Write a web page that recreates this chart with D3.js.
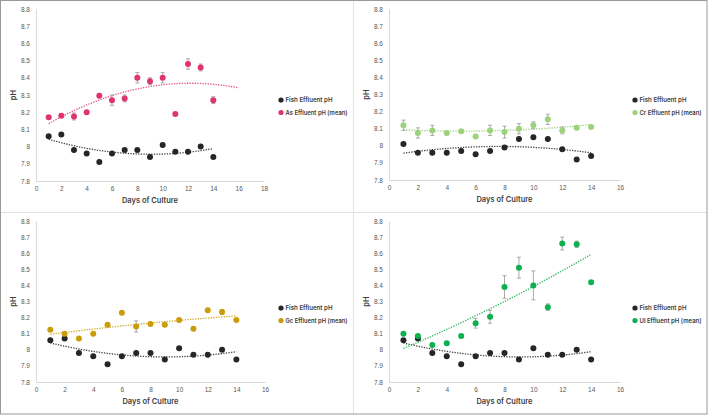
<!DOCTYPE html>
<html>
<head>
<meta charset="utf-8">
<script src="https://cdn.jsdelivr.net/npm/d3@7"></script>
<style>
  body { margin: 0; background: #fff; }
  svg { display: block; font-family: Inter, "Open Sans", sans-serif; }
</style>
</head>
<body>
<svg id="chart" width="709" height="416"></svg>
<script>
const days = [1, 2, 3, 4, 5, 6, 7, 8, 9, 10, 11, 12, 13, 14];

// fish effluent control (As, Gc, Ul panels share it)
const fishPH = [8.06, 8.07, 7.98, 7.96, 7.91, 7.96, 7.98, 7.98, 7.94, 8.01, 7.97, 7.97, 8.00, 7.94];
// fish effluent in the Cr panel
const fishPHCr = [8.01, 7.96, 7.96, 7.96, 7.97, 7.95, 7.97, 7.99, 8.04, 8.05, 8.04, 7.98, 7.92, 7.94];

const asPH  = [8.17, 8.18, 8.175, 8.20, 8.295, 8.27, 8.28, 8.40, 8.38, 8.40, 8.19, 8.48, 8.46, 8.27];
const asErr = [0, 0.005, 0.02, 0.01, 0.01, 0.03, 0.02, 0.03, 0.02, 0.03, 0, 0.03, 0.02, 0.02];

const crPH  = [8.12, 8.075, 8.09, 8.075, 8.085, 8.055, 8.09, 8.08, 8.10, 8.12, 8.155, 8.09, 8.105, 8.11];
const crErr = [0.03, 0.03, 0.03, 0.01, 0.01, 0, 0.03, 0.035, 0.03, 0.02, 0.03, 0.02, 0, 0];

const gcPH  = [8.125, 8.10, 8.07, 8.10, 8.155, 8.23, 8.145, 8.16, 8.155, 8.185, 8.13, 8.245, 8.235, 8.185];
const gcErr = [0, 0.01, 0, 0, 0, 0, 0.035, 0.01, 0, 0, 0, 0, 0.015, 0];

const ulPH  = [8.10, 8.085, 8.03, 8.04, 8.085, 8.165, 8.205, 8.39, 8.51, 8.40, 8.265, 8.66, 8.655, 8.42];
const ulErr = [0, 0.01, 0, 0, 0.01, 0.03, 0.04, 0.07, 0.065, 0.09, 0.02, 0.04, 0.02, 0];

const yTicks = [7.8, 7.9, 8.0, 8.1, 8.2, 8.3, 8.4, 8.5, 8.6, 8.7, 8.8];
const fishLabel = "Fish Effluent pH";
const xTitle = "Days of Culture";
const yTitle = "pH";

const panels = [
  { fish: fishPH, vals: asPH, err: asErr, label: "As Effluent pH (mean)", color: "#df3471", trend: "#e4507f",
    xMax: 18, trendTo: 16, box: { l: 36, r: 264, t: 9, b: 181 }, legX: 281, legY: 100 },
  { fish: fishPHCr, vals: crPH, err: crErr, label: "Cr Effluent pH (mean)", color: "#9dd27c", trend: "#9dd27c",
    xMax: 16, trendTo: 14, box: { l: 389, r: 620, t: 9, b: 180 }, legX: 635, legY: 100 },
  { fish: fishPH, vals: gcPH, err: gcErr, label: "Gc Effluent pH (mean)", color: "#c99c0a", trend: "#d4a820",
    xMax: 16, trendTo: 14, box: { l: 36, r: 265, t: 221, b: 382 }, legX: 281, legY: 308 },
  { fish: fishPH, vals: ulPH, err: ulErr, label: "Ul Effluent pH (mean)", color: "#0db04f", trend: "#2cb85f",
    xMax: 16, trendTo: 14, box: { l: 389, r: 620, t: 221, b: 382 }, legX: 635, legY: 308 }
];

// least squares quadratic, as the spreadsheet trendline does
function quadFit(xs, ys) {
  let s = [0, 0, 0, 0, 0], t = [0, 0, 0];
  xs.forEach((x, i) => {
    for (let k = 0; k <= 4; k++) s[k] += Math.pow(x, k);
    for (let k = 0; k <= 2; k++) t[k] += Math.pow(x, k) * ys[i];
  });
  const A = [[s[0], s[1], s[2], t[0]], [s[1], s[2], s[3], t[1]], [s[2], s[3], s[4], t[2]]];
  for (let i = 0; i < 3; i++) {
    for (let j = i + 1; j < 3; j++) {
      const f = A[j][i] / A[i][i];
      for (let k = i; k < 4; k++) A[j][k] -= f * A[i][k];
    }
  }
  const c = [0, 0, 0];
  for (let i = 2; i >= 0; i--) {
    let v = A[i][3];
    for (let k = i + 1; k < 3; k++) v -= A[i][k] * c[k];
    c[i] = v / A[i][i];
  }
  return x => c[0] + c[1] * x + c[2] * x * x;
}

const svg = d3.select("#chart");

// frame and dividers
svg.append("line").attr("x1", 353.5).attr("x2", 353.5).attr("y1", 0).attr("y2", 414)
  .attr("stroke", "#e3e3e3");
svg.append("line").attr("x1", 0).attr("x2", 707).attr("y1", 212.5).attr("y2", 212.5)
  .attr("stroke", "#e3e3e3");
svg.append("rect").attr("x", 0.5).attr("y", 0.5).attr("width", 706.5).attr("height", 413.5)
  .attr("fill", "none").attr("stroke", "#9a9a9a");

panels.forEach(p => {
  const g = svg.append("g");
  const x = d3.scaleLinear().domain([0, p.xMax]).range([p.box.l, p.box.r]);
  const y = d3.scaleLinear().domain([7.8, 8.8]).range([p.box.b, p.box.t]);

  const yAxis = g.append("g")
    .attr("transform", `translate(${p.box.l},0)`)
    .call(d3.axisLeft(y).tickValues(yTicks).tickSize(0).tickPadding(6)
      .tickFormat(d => String(+d.toFixed(1))));
  const xAxis = g.append("g")
    .attr("transform", `translate(0,${p.box.b})`)
    .call(d3.axisBottom(x).tickValues(d3.range(0, p.xMax + 1, 2)).tickSize(0).tickPadding(5));
  [yAxis, xAxis].forEach(a => {
    a.select(".domain").attr("stroke", "#d9d9d9");
    a.selectAll("text").attr("fill", "#595959").attr("font-size", 6.5);
  });

  g.append("text")
    .attr("x", (p.box.l + p.box.r) / 2).attr("y", p.box.b + 22)
    .attr("text-anchor", "middle").attr("font-size", 7.5).attr("font-weight", 600)
    .attr("fill", "#404040").text(xTitle);
  g.append("text")
    .attr("transform", `translate(${p.box.l - 20},${(p.box.t + p.box.b) / 2}) rotate(-90)`)
    .attr("text-anchor", "middle").attr("font-size", 7.5).attr("font-weight", 600)
    .attr("fill", "#404040").text(yTitle);

  // trendlines
  const line = d3.line().x(d => x(d[0])).y(d => y(d[1]));
  const fishFit = quadFit(days, p.fish);
  const valFit = quadFit(days, p.vals);
  g.append("path")
    .attr("d", line(d3.range(1, 14.01, 0.25).map(d => [d, fishFit(d)])))
    .attr("fill", "none").attr("stroke", "#404040").attr("stroke-width", 1.3)
    .attr("stroke-dasharray", "1.3,1.3");
  g.append("path")
    .attr("d", line(d3.range(1, p.trendTo + 0.01, 0.25).map(d => [d, valFit(d)])))
    .attr("fill", "none").attr("stroke", p.trend).attr("stroke-width", 1.3)
    .attr("stroke-dasharray", "1.3,1.3");

  // error bars
  const eb = g.append("g").attr("stroke", "#a0a0a0").attr("stroke-width", 0.9);
  days.forEach((d, i) => {
    if (!p.err[i]) return;
    const cx = x(d), y1 = y(p.vals[i] - p.err[i]), y2 = y(p.vals[i] + p.err[i]);
    eb.append("line").attr("x1", cx).attr("x2", cx).attr("y1", y1).attr("y2", y2);
    eb.append("line").attr("x1", cx - 2).attr("x2", cx + 2).attr("y1", y1).attr("y2", y1);
    eb.append("line").attr("x1", cx - 2).attr("x2", cx + 2).attr("y1", y2).attr("y2", y2);
  });

  g.append("g").selectAll("circle").data(days).join("circle")
    .attr("cx", d => x(d)).attr("cy", (d, i) => y(p.fish[i])).attr("r", 3)
    .attr("fill", "#262626");
  g.append("g").selectAll("circle").data(days).join("circle")
    .attr("cx", d => x(d)).attr("cy", (d, i) => y(p.vals[i])).attr("r", 3)
    .attr("fill", p.color);

  // legend
  const leg = g.append("g").attr("transform", `translate(${p.legX},${p.legY})`);
  [[fishLabel, "#262626"], [p.label, p.color]].forEach((e, i) => {
    leg.append("circle").attr("cx", 0).attr("cy", i * 12.5).attr("r", 2.6).attr("fill", e[1]);
    const t = leg.append("text").attr("x", 4.5).attr("y", i * 12.5).attr("dy", "0.35em")
      .attr("font-size", 6.6).attr("font-weight", 600).attr("fill", "#404040").text(e[0]);
    const maxW = i === 0 ? 47 : 62;
    if (t.node().getComputedTextLength() > maxW) {
      t.attr("textLength", maxW).attr("lengthAdjust", "spacingAndGlyphs");
    }
  });
});
</script>
</body>
</html>
